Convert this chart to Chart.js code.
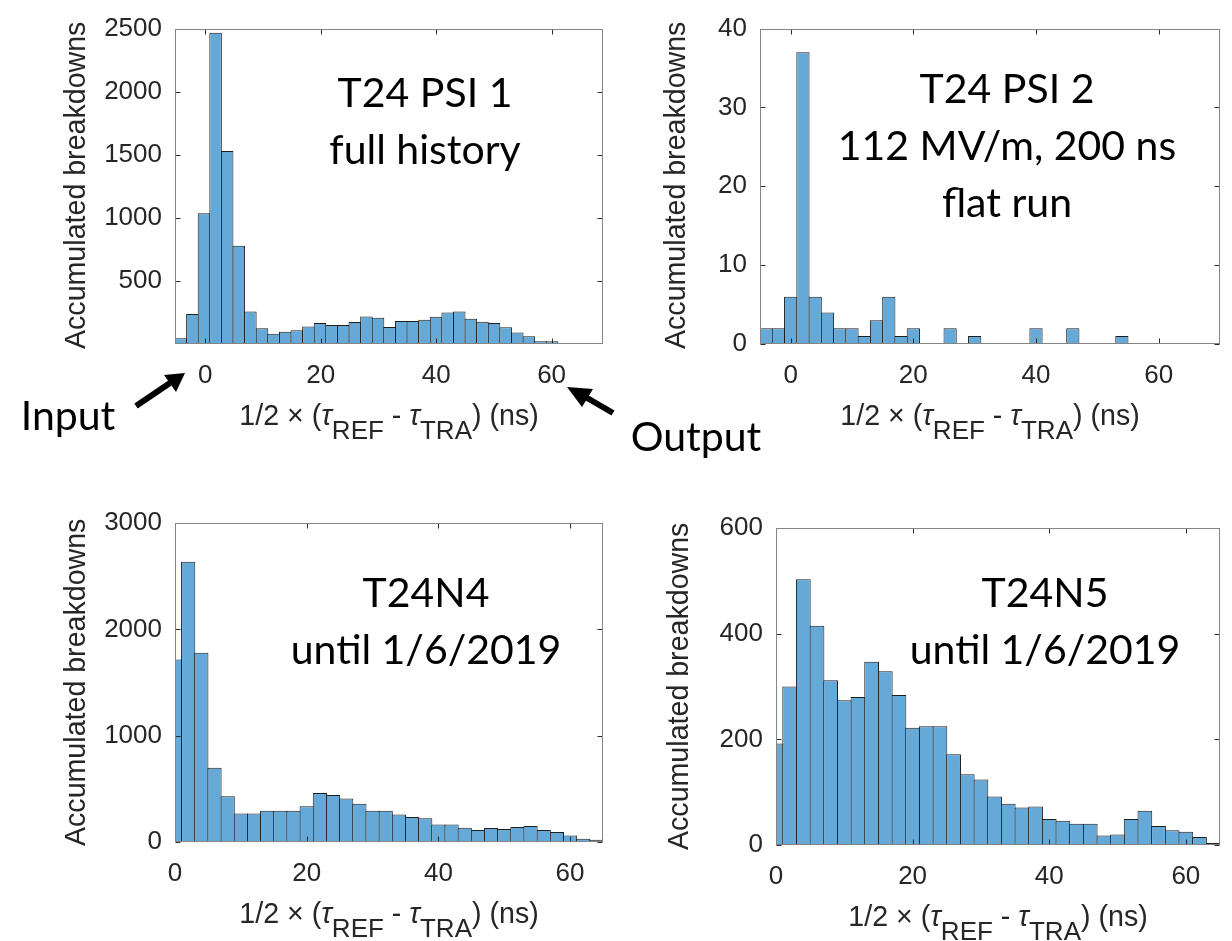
<!DOCTYPE html>
<html>
<head>
<meta charset="utf-8">
<script src="https://cdn.jsdelivr.net/npm/chart.js@4.4.0/dist/chart.umd.min.js"></script>
<style>
  body { margin: 0; background: #fff; }
  #page { position: relative; width: 1232px; height: 941px; overflow: hidden; }
  canvas { position: absolute; left: 0; top: 0; }
  .note { position: absolute; width: 600px; text-align: center; font-family: Lato; font-size: 41px; line-height: 57px; color: #000; white-space: nowrap; }
  .xt { position: absolute; width: 500px; text-align: center; font-family: "Liberation Sans"; font-size: 28.6px; line-height: 1; color: #262626; white-space: nowrap; }
  .xt sub { font-size: 26px; vertical-align: -14px; line-height: 0; }
  .yt { position: absolute; width: 420px; text-align: center; font-family: "Liberation Sans"; font-size: 28.6px; line-height: 1; color: #262626; white-space: nowrap; transform: rotate(-90deg); }
  svg { position: absolute; left: 0; top: 0; }
</style>
</head>
<body>
<div id="page">
  <canvas id="psi1" width="1232" height="941"></canvas>
  <canvas id="psi2" width="1232" height="941"></canvas>
  <canvas id="n4" width="1232" height="941"></canvas>
  <canvas id="n5" width="1232" height="941"></canvas>

  <div class="yt" style="left:-135px; top:171px;">Accumulated breakdowns</div>
  <div class="yt" style="left:465px; top:171px;">Accumulated breakdowns</div>
  <div class="yt" style="left:-135px; top:668px;">Accumulated breakdowns</div>
  <div class="yt" style="left:468px; top:672px;">Accumulated breakdowns</div>

  <div class="xt" style="left:139px; top:401px;">1/2 &times; (<i>&tau;</i><sub>REF</sub> - <i>&tau;</i><sub>TRA</sub>) (ns)</div>
  <div class="xt" style="left:740px; top:401px;">1/2 &times; (<i>&tau;</i><sub>REF</sub> - <i>&tau;</i><sub>TRA</sub>) (ns)</div>
  <div class="xt" style="left:139px; top:899px;">1/2 &times; (<i>&tau;</i><sub>REF</sub> - <i>&tau;</i><sub>TRA</sub>) (ns)</div>
  <div class="xt" style="left:748px; top:902px;">1/2 &times; (<i>&tau;</i><sub>REF</sub> - <i>&tau;</i><sub>TRA</sub>) (ns)</div>

  <div class="note" style="left:125px; top:63px;">T24 PSI 1<br>full history</div>
  <div class="note" style="left:707px; top:59px;">T24 PSI 2<br>112 MV/m, 200 ns<br>flat run</div>
  <div class="note" style="left:126px; top:563px;">T24N4<br>until 1/6/2019</div>
  <div class="note" style="left:745px; top:563px;">T24N5<br>until 1/6/2019</div>
  <div class="note" style="left:-232px; top:386px;">Input</div>
  <div class="note" style="left:396px; top:407px;">Output</div>

  <svg width="1232" height="941">
    <line x1="136" y1="406" x2="170" y2="383" stroke="#000" stroke-width="6"/>
    <polygon points="185,373 164,375 176,392" fill="#000"/>
    <line x1="613" y1="413" x2="582" y2="395" stroke="#000" stroke-width="6"/>
    <polygon points="567,387 582,407 593,389" fill="#000"/>
  </svg>
</div>

<script>
// T24 PSI 1, full history
const psi1Bins = [-4.24, -2.23, -0.22, 1.79, 3.80, 5.81, 7.82, 9.83, 11.84, 13.85, 15.86, 17.87,
  19.88, 21.89, 23.90, 25.91, 27.92, 29.93, 31.94, 33.95, 35.96, 37.97, 39.98, 41.99, 44.00,
  46.01, 48.02, 50.03, 52.04, 54.05, 56.06, 58.07, 60.08, 62.09];
const psi1Counts = [45, 237, 1037, 2468, 1529, 779, 258, 124, 82, 97, 108, 139, 166, 150, 150, 174,
  218, 208, 134, 182, 182, 192, 216, 250, 258, 200, 176, 166, 132, 92, 61, 21, 21, 5];
const psi1XTicks = [0, 20, 40, 60];
const psi1YTicks = [500, 1000, 1500, 2000, 2500];

// T24 PSI 2, 112 MV/m, 200 ns flat run
const psi2Bins = [-4, -2, 0, 2, 4, 6, 8, 10, 12, 14, 16, 18, 20, 22, 24, 26, 28, 30, 32, 34, 36, 38,
  40, 42, 44, 46, 48, 50, 52, 54];
const psi2Counts = [2, 2, 6, 37, 6, 4, 2, 2, 1, 3, 6, 1, 2, 0, 0, 2, 0, 1, 0, 0, 0, 0,
  2, 0, 0, 2, 0, 0, 0, 1];
const psi2XTicks = [0, 20, 40, 60];
const psi2YTicks = [0, 10, 20, 30, 40];

// T24N4 until 1/6/2019
const n4Bins = [0, 2, 4, 6, 8, 10, 12, 14, 16, 18, 20, 22, 24, 26, 28, 30, 32, 34, 36, 38, 40, 42,
  44, 46, 48, 50, 52, 54, 56, 58, 60, 62, 64];
const n4Counts = [1717, 2636, 1780, 699, 431, 268, 268, 293, 293, 293, 337, 460, 441, 409, 359, 293,
  293, 258, 236, 224, 164, 164, 135, 113, 132, 123, 142, 151, 113, 94, 60, 31, 22];
const n4XTicks = [0, 20, 40, 60];
const n4YTicks = [0, 1000, 2000, 3000];

// T24N5 until 1/6/2019
const n5Bins = [0, 2, 4, 6, 8, 10, 12, 14, 16, 18, 20, 22, 24, 26, 28, 30, 32, 34, 36, 38, 40, 42,
  44, 46, 48, 50, 52, 54, 56, 58, 60, 62, 64];
const n5Counts = [192, 300, 503, 415, 312, 274, 280, 347, 329, 284, 222, 225, 225, 172, 134, 124,
  92, 78, 71, 73, 49, 46, 40, 40, 18, 20, 49, 65, 36, 28, 25, 15, 4];
const n5XTicks = [0, 20, 40, 60];
const n5YTicks = [0, 200, 400, 600];

const barColor = "#65a9d8";
const edgeColor = "#1e1e1e";
const axisColor = "#262626";

// matlab style box with inward ticks on all four sides
const boxPlugin = {
  id: "box",
  afterDatasetsDraw(chart) {
    const { ctx, chartArea: a, scales } = chart;
    const l = Math.round(a.left) + 0.5, r = Math.round(a.right) - 0.5;
    const t = Math.round(a.top) + 0.5, b = Math.round(a.bottom) - 0.5;
    ctx.save();
    ctx.lineWidth = 1;
    ctx.strokeStyle = "#2a2a2a";
    ctx.beginPath();
    scales.x.ticks.forEach(tk => {
      const px = Math.round(scales.x.getPixelForValue(tk.value)) + 0.5;
      ctx.moveTo(px, b); ctx.lineTo(px, b - 5);
      ctx.moveTo(px, t); ctx.lineTo(px, t + 5);
    });
    scales.y.ticks.forEach(tk => {
      const py = Math.round(scales.y.getPixelForValue(tk.value)) + 0.5;
      ctx.moveTo(l, py); ctx.lineTo(l + 5, py);
      ctx.moveTo(r, py); ctx.lineTo(r - 5, py);
    });
    ctx.stroke();
    ctx.strokeStyle = "#858585";
    ctx.strokeRect(l, t, r - l, b - t);
    ctx.restore();
  }
};

function histogram(id, bins, counts, xTicks, yTicks, xMin, xMax, yMax, area) {
  const tickFont = { family: "Liberation Sans", size: 26 };
  return new Chart(document.getElementById(id), {
    type: "bar",
    data: {
      datasets: [{
        data: bins.map((b, i) => ({ x: b, y: counts[i] })),
        backgroundColor: barColor,
        borderColor: edgeColor,
        borderWidth: 1,
        barPercentage: 1.08,
        categoryPercentage: 1,
        clip: 0
      }]
    },
    options: {
      responsive: false,
      animation: false,
      events: [],
      layout: { padding: { left: area.left - 120, right: 1232 - area.right, top: area.top, bottom: 941 - area.bottom - 60 } },
      plugins: { legend: { display: false }, tooltip: { enabled: false } },
      scales: {
        x: {
          type: "linear", min: xMin, max: xMax, offset: false,
          grid: { display: false, drawTicks: false }, border: { display: false },
          afterBuildTicks: s => { s.ticks = xTicks.map(v => ({ value: v })); },
          afterFit: s => { s.height = 60; },
          ticks: { autoSkip: false, maxRotation: 0, padding: 16, color: axisColor, font: tickFont, callback: v => String(v) }
        },
        y: {
          min: 0, max: yMax,
          grid: { display: false, drawTicks: false }, border: { display: false },
          afterBuildTicks: s => { s.ticks = yTicks.map(v => ({ value: v })); },
          afterFit: s => { s.width = 120; },
          ticks: { autoSkip: false, padding: 13, color: axisColor, font: tickFont, callback: v => String(v) }
        }
      }
    },
    plugins: [boxPlugin]
  });
}

histogram("psi1", psi1Bins, psi1Counts, psi1XTicks, psi1YTicks, -5.24, 68.9, 2500,
  { left: 175, right: 603, top: 27, bottom: 344 });
histogram("psi2", psi2Bins, psi2Counts, psi2XTicks, psi2YTicks, -5, 70, 40,
  { left: 760, right: 1220, top: 27, bottom: 344 });
histogram("n4", n4Bins, n4Counts, n4XTicks, n4YTicks, 0, 65, 3000,
  { left: 175, right: 603, top: 523, bottom: 842 });
histogram("n5", n5Bins, n5Counts, n5XTicks, n5YTicks, 0, 65, 600,
  { left: 776, right: 1220, top: 528, bottom: 845 });
</script>
</body>
</html>
